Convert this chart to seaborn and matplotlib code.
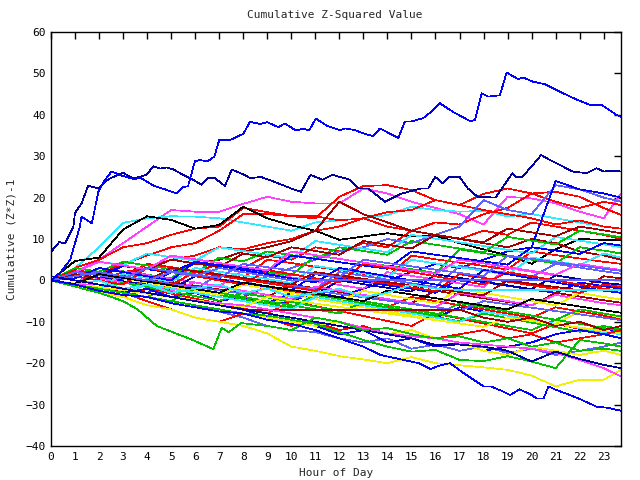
import matplotlib
matplotlib.use("Agg")
import matplotlib.pyplot as plt
import seaborn as sns
import pandas as pd

# ---------------- data ----------------
hours = [0, 1, 2, 3, 4, 5, 6, 7, 8, 9, 10, 11, 12, 13, 14, 15, 16, 17, 18,
         19, 20, 21, 22, 23, 23.72]

# prominent series with their own hour grids
top_blue_h = [0, 0.4, 0.8, 1.2, 1.27, 1.7, 1.9, 1.97, 2.25, 2.52, 3.0, 3.5, 3.7,
              4.26, 4.74, 5.23, 5.5, 5.7, 5.99, 6.2, 6.5, 6.8, 7.0, 7.45, 8.0,
              8.28, 8.7, 9.0, 9.46, 9.73, 10.2, 10.5, 10.74, 11.02, 11.47, 12.02,
              12.23, 12.65, 12.99, 13.4, 13.69, 14.45, 14.73, 15.0, 15.49, 15.77,
              16.18, 16.73, 17.43, 17.64, 17.92, 18.2, 18.68, 18.96, 19.44, 19.65,
              20.06, 20.55, 21.31, 21.87, 22.42, 22.91, 23.53, 23.72]
top_blue_v = [0, 2, 5, 13, 15.4, 13.8, 19.4, 21.4, 24.3, 26.3, 25.2, 24.4, 24.9,
              22.9, 22, 21, 22.6, 22.7, 28.8, 29.1, 28.7, 29.9, 33.9, 33.9, 35.4,
              38.3, 37.8, 38.2, 37, 37.9, 36.2, 36.7, 36.2, 39.1, 37.4, 36.3,
              36.7, 36.3, 35.5, 34.9, 36.7, 34.4, 38.4, 38.4, 39.2, 40.5,
              42.8, 40.7, 38.5, 38.7, 45.2, 44.4, 44.7, 50.2, 48.6, 49,
              48, 47.4, 45.2, 43.7, 42.4, 42.4, 40, 39.5]

navy_h = [0, 0.35, 0.58, 0.93, 1.0, 1.27, 1.55, 1.97, 2.4, 3.0, 3.42, 3.98, 4.26,
          4.53, 4.81, 5.09, 5.5, 5.92, 6.27, 6.54, 6.82, 7.24, 7.52, 8.0, 8.3,
          8.73, 9.3, 10.0, 10.4, 10.8, 11.3, 11.7, 12.2, 12.4, 12.8, 13.2, 13.9,
          14.6, 15.4, 15.7, 15.99, 16.3, 16.58, 17.0, 17.35, 17.75, 18.5, 19.2,
          19.33, 19.6, 20.0, 20.4, 20.75, 21.17, 21.7, 22.3, 22.7, 23.0, 23.4, 23.72]
navy_v = [6.9, 9.3, 8.9, 13, 16.3, 18.6, 22.9, 22.2, 24.5, 26, 24.6, 25.5, 27.6,
          27, 27.3, 26.8, 25.5, 24.3, 23.1, 24.7, 24.7, 22.8, 26.8, 25.6, 24.7,
          25, 23.8, 22.2, 21.4, 25.5, 24.3, 25.5, 24.7, 24.4, 22.2, 22.2, 19,
          21, 22.2, 22.2, 25, 23.4, 25, 25, 22.2, 20.2, 20, 25.9, 25, 25,
          27.5, 30.3, 29.1, 27.9, 26.3, 25.9, 27.1, 26.3, 26.5, 26.3]

bottom_blue_h = [0, 1, 2, 3, 4, 5, 6, 7, 8, 9, 10, 11, 12, 13, 13.7, 14.5, 15.3,
                 15.8, 16.2, 16.6, 17.2, 18.0, 18.3, 18.8, 19.1, 19.5, 20.0, 20.2,
                 20.5, 20.7, 21.0, 21.6, 22.1, 22.7, 23.2, 23.72]
bottom_blue_v = [0, -1, -2.5, -3.5, -4, -5.5, -6.5, -7.5, -8, -9.5, -10.5, -12,
                 -14, -16, -18, -19, -20, -21.4, -20.5, -20, -22.5, -25.6, -25.6,
                 -26.8, -27.7, -26.3, -27.7, -28.5, -28.5, -25.6, -26.4, -27.7,
                 -28.9, -30.5, -30.8, -31.5]

green_dip_h = [0, 1, 2, 3, 3.6, 4.4, 5.9, 6.75, 7.1, 7.4, 7.9, 9, 10, 11, 12, 13,
               14, 15, 16, 17, 18, 19, 20, 21, 22, 23, 23.72]
green_dip_v = [0, -1.5, -3, -5, -7, -11, -14.4, -16.6, -11.5, -12.5, -10.3, -11,
               -12, -9, -10, -12, -11.5, -13, -14, -13.5, -15, -14, -16, -15, -17,
               -16.5, -17]

# series on the hourly grid
magenta_up = [0, 2, 5, 9, 13, 17, 16.6, 16.6, 18.5, 20.2, 19, 18.6, 18.6, 22.2,
              21, 19, 17.5, 16, 13.5, 20.2, 19.8, 18.6, 16.6, 15, 21]
cyan_up = [0, 3, 8, 13.9, 15, 15.5, 15.4, 15, 14, 13, 12, 14, 14.5, 15, 15.8,
           17.8, 17, 16.6, 16.8, 15.5, 16, 15, 14, 13, 12.5]
red_up_a = [0, 2, 1.5, 4, 6, 8, 9, 12, 16, 16, 15.5, 15, 20.2, 22.8, 23, 21.8,
            19.4, 18.2, 17, 16, 15, 13.5, 14.5, 13, 12.5]
red_up_b = [0, 1, 0, 2, 3, 5, 6, 8, 7.5, 9, 10, 12, 13, 15, 16.5, 17, 19.4, 18.2,
            20.9, 22.2, 21, 21.4, 20.2, 17.5, 15.8]
red_up_c = [0, 3, 5, 8, 9, 11, 12.5, 13, 17.5, 16.5, 15.5, 15.5, 14.5, 15, 13,
            12, 11, 10, 12, 11, 14, 13, 12, 11, 10]
red_up_d = [0, -1, -2, -2, -3, -1, 2, 4, 3, 6, 5, 8, 7, 9, 8, 12, 14, 13.5, 16,
            17.5, 21, 19, 17.5, 19, 18.2]
black_up = [0, 4.7, 5.5, 12.3, 15.5, 14.6, 12.5, 13.4, 17.8, 15, 13.3, 12, 9.8,
            10.6, 11.4, 10.6, 10.8, 9, 7.5, 6, 4, 7.5, 10, 9.8, 9.8]
darkred_up = [0, -1, 0, 1, 3, 2, 4, 5, 7, 8, 9.5, 12, 19, 16, 14, 12, 11, 10, 9,
              8, 10, 9, 7, 6, 5]
lightblue_up = [0, 1, 2, 1, 0, 2, 1, 0, -1, 1, 3, 5, 7, 8, 10, 9, 11, 13, 19.4,
                17, 16, 23, 22, 20, 19]
blue_jump = [0, -1, -2, -3, -2, -4, -3, -5, -4, -6, -5, -3, -4, -2, 0, 2, 4, 3,
             5, 7, 8, 24, 22, 21, 20]

red_mid_a = [0, 2.5, 1.5, 0.7, 4, 3.2, 2.3, 1.5, 0.6, 5, 4.2, 3.3, 2.5, 1.6, 0.8,
             6, 5.1, 4.3, 3.5, 2.6, 7, 6.1, 5.3, 4.5, 4]
green_mid_a = [0, -0.8, 3, 2.2, 1.4, 0.5, 4.5, 3.7, 2.8, 2, 1.2, 6, 5.2, 4.3, 3.5,
               2.7, 1.8, 7.5, 6.6, 5.8, 5, 4.1, 8, 7.2, 6.5]
blue_mid_a = [0, 1.5, 0.7, -0.2, -1, 2, 1.2, 0.3, -0.6, -1.5, -2.4, 1.5, 0.6,
              -0.3, -1.2, -2, -3, 0.5, -0.4, -1.3, -2.2, -3, -0.5, -1.4, -2]
magenta_mid_a = [0, -0.9, 3, 2.1, 1.3, 0.4, -0.5, -1.4, 2.5, 1.6, 0.7, -0.2, -1.1,
                 -2, 2, 1.1, 0.2, -0.7, -1.6, 3, 2.1, 1.2, 0.3, -0.6, -1.2]
cyan_mid_a = [0, 2, 4.5, 3.7, 6.5, 5.6, 4.8, 8, 7.1, 6.2, 5.4, 9.5, 8.6, 7.7, 6.8,
              11, 10.1, 9.2, 8.3, 7.4, 6.5, 10.5, 9.6, 8.7, 8]
darkred_mid_a = [0, -0.9, -1.8, -2.7, 0.5, -0.4, -1.3, -2.2, -3.1, -4, -1, -1.9,
                 -2.8, -3.7, -4.6, -5.5, -2.5, -3.4, -4.3, -5.2, -6.1, -3, -3.9,
                 -4.8, -5.4]
lightblue_mid_a = [0, -0.9, 1.5, 0.6, -0.3, -1.2, -2.1, 1.5, 0.6, -0.3, -1.2, -2.1,
                   2, 1.1, 0.2, -0.7, -1.6, 3.5, 2.6, 1.7, 0.8, 4, 3.1, 2.2, 1.6]
yellow_mid_a = [0, -1, -2, -3, -1, -2, -3, -4, -5, -6, -3.5, -4.5, -5.5, -6.5,
                -7.5, -8.5, -9.5, -6.5, -7.5, -8.5, -9.5, -10.5, -7.5, -8.5, -9]
navy_mid_a = [0, 1.5, 0.6, -0.3, -1.2, -2.1, 1, 0.1, -0.8, -1.7, -2.6, -3.5, 0,
              -0.9, -1.8, -2.7, 1.5, 0.6, -0.3, -1.2, -2.1, 1.2, 0.3, -0.6, -1]
red_mid_b = [0, -1, -2, 1, 0, -1, -2, -3, -4, -1.5, -2.5, -3.5, -4.5, -5.5, -6.5,
             -4, -5, -6, -7, -8, -9, -6.5, -7.5, -8.5, -9.5]
green_mid_b = [0, 3, 2.1, 4.5, 3.6, 2.7, 1.8, 5.5, 4.6, 7, 6.1, 5.2, 8, 7.1, 6.2,
               9.5, 8.6, 7.7, 6.8, 10.5, 9.6, 8.7, 12, 11.1, 10.4]
blue_mid_b = [0, -1, -2, 0.5, -0.5, -1.5, -2.5, -3.5, -4.5, -5.5, -3, -4, -5, -6,
              -7, -8, -9, -6.5, -7.5, -8.5, -9.5, -10.5, -11.5, -12.5, -12]
magenta_mid_b = [0, 1.5, 0.5, -0.5, -1.5, -2.5, -0.5, -1.5, -2.5, -3.5, -4.5, -1.5,
                 -2.5, -3.5, -4.5, -5.5, -6.5, -3, -4, -5, -6, -3.5, -4.5, -5.5, -6]
cyan_mid_b = [0, -0.9, -1.8, 1.5, 0.6, -0.3, 3, 2.1, 1.2, 0.3, -0.6, 3.5, 2.6,
              1.7, 0.8, 5, 4.1, 3.2, 2.3, 1.4, 5.5, 4.6, 3.7, 6.5, 5.5]
red_mid_c = [0, -1, -2.5, -4, -2, -3.2, -4.4, -5.6, -6.8, -8, -5, -6.2, -7.4,
             -8.6, -9.8, -11, -8, -9.2, -10.4, -11.6, -12.8, -10.5, -11.7, -12.9, -14]
green_mid_c = [0, -1, -2, -3, -4, -1.5, -2.5, -3.5, -4.5, -5.5, -6.5, -3.5, -4.5,
               -5.5, -6.5, -7.5, -8.5, -5.5, -6.5, -7.5, -8.5, -9.5, -7, -8, -8.7]
darkred_mid_b = [0, 1.5, 0.6, 3.5, 2.6, 5, 4.1, 3.2, 6.5, 5.6, 8, 7.1, 6.2, 9.5,
                 8.6, 7.7, 11, 10.1, 9.2, 12.5, 11.6, 10.7, 13, 12.1, 11.4]
lightblue_mid_b = [0, -0.8, -1.6, -2.4, 0, -0.8, -1.6, -2.4, -3.2, -4, -4.8, -2.5,
                   -3.3, -4.1, -4.9, -5.7, -6.5, -7.3, -5, -5.8, -6.6, -7.4, -8.2,
                   -9, -9.6]
yellow_mid_b = [0, -1, 1.5, 0.5, -0.5, -1.5, -2.5, -3.5, -1, -2, -3, -4, -5, -2.5,
                -3.5, -4.5, -5.5, -2, -3, -4, -5, -6, -3, -4, -4.6]
blue_mid_c = [0, 2, 1.2, 3.5, 2.7, 1.9, 4.5, 3.7, 2.9, 2.1, 6, 5.2, 4.4, 3.6, 2.8,
              7, 6.2, 5.4, 4.6, 3.8, 8, 7.2, 6.4, 9, 8.4]
red_mid_d = [0, 2.5, 1.6, 0.7, -0.2, -1.1, 2, 1.1, 0.2, -0.7, -1.6, -2.5, 1, 0.1,
             -0.8, -1.7, -2.6, 1.5, 0.6, -0.3, -1.2, -2.1, -3, -1, -1.6]
green_mid_d = [0, -1.1, -2.2, -0.5, -1.6, -2.7, -3.8, -4.9, -3, -4.1, -5.2, -6.3,
               -7.4, -5.5, -6.6, -7.7, -8.8, -9.9, -8, -9.1, -10.2, -11.3, -12.4,
               -11, -11.8]
red_mid_e = [0, 1, 0, -1, 3, 2, 1, 0, -1, 2.5, 1.5, 0.5, -0.5, 4, 3, 2, 1, 0, -1,
             2, 1, 0, -1, -2, -2.5]
green_mid_e = [0, -1, -2, -3, -4, -5, -2, -3, -4, -5, -6, -7, -8, -5, -6, -7, -8,
               -9, -10, -11, -12, -9.5, -10.5, -11.5, -12.2]
blue_mid_d = [0, 0.5, 3, 2, 1, 0, 4.5, 3.5, 2.5, 1.5, 0.5, -0.5, 3, 2, 1, 0, -1,
              -2, 2.5, 1.5, 0.5, -0.5, -1.5, -2.5, -3]
magenta_mid_c = [0, 2, 4.5, 3.6, 2.7, 6, 5.1, 4.2, 3.3, 2.4, 7, 6.1, 5.2, 4.3,
                 3.4, 2.5, 1.6, 5, 4.1, 3.2, 2.3, 1.4, 4, 3.1, 2.5]
cyan_mid_c = [0, -1, -2, -3, -1, -2, -3, -4, -5, -6, -7, -4, -5, -6, -7, -8, -9,
              -10, -7.5, -8.5, -9.5, -10.5, -11.5, -12.5, -13]
darkred_mid_c = [0, -0.8, 1.5, 0.7, -0.1, 3, 2.2, 1.4, 0.6, -0.2, -1, 2, 1.2, 0.4,
                 -0.4, -1.2, -2, -2.8, -3.6, 0, -0.8, -1.6, -2.4, 1, 0.5]
yellow_mid_c = [0, -0.8, -1.6, -2.4, -3.2, -4, -4.8, -5.6, -6.4, -4, -4.8, -5.6,
                -6.4, -7.2, -8, -8.8, -9.6, -10.4, -11.2, -9, -9.8, -10.6, -11.4,
                -12.2, -12.8]
lightblue_mid_c = [0, 2, 1.2, 0.4, 3, 2.2, 1.4, 0.6, 4, 3.2, 2.4, 1.6, 0.8, 5,
                   4.2, 3.4, 2.6, 1.8, 1, 6, 5.2, 4.4, 3.6, 2.8, 2.3]
black_mid = [0, -0.9, 1.5, 0.6, -0.3, -1.2, -2.1, -3, -0.5, -1.4, -2.3, -3.2,
             -4.1, -5, -2.5, -3.4, -4.3, -5.2, -6.1, -7, -4.5, -5.4, -6.3, -7.2,
             -7.8]
cyan_flat = [0, -1, 0, -2, -1, -3, -2, -1, -3, -2, -4, -3, -2, -4, -3, -1, -2,
             -2.3, -2.3, -2.3, -2.3, -2.3, -2.3, -2.3, -2.3]
lightblue_flat = [0, 1, 2, 1, 0, 2, 1, 3, 2, 1, 0, 0.1, 0.1, 0.1, 0.1, 0.1, 0.1,
                  0.1, 0.1, 0.1, 0.1, 0.1, 0.1, 0.1, 0.1]
darkred_flat = [0, -1, -2, -3, -2, -4, -5, -6, -7.1, -7.1, -7.1, -7.1, -7.1,
                -7.1, -7.1, -7.1, -7.1, -7.1, -9, -10, -9, -11, -10, -12, -11]

lightblue_low = [0, -1, -2, -3, -4, -5, -6, -7.5, -9, -11, -12, -12.5, -14, -15,
                 -14, -16.5, -15.5, -17, -16, -17.5, -16.5, -18, -17, -16, -15]
red_low = [0, -1, -2, -3, -5, -7, -9, -10, -8, -9, -11, -10, -12, -11, -13, -12,
           -14, -13, -12, -14, -13, -15, -14, -13, -12]
blue_low = [0, -1, -2, -3, -2, -4, -5, -6, -7, -9, -10, -11, -13, -12, -15, -14,
            -16, -15, -17, -16, -15, -13, -12, -13, -14]
yellow_low_a = [0, -1, -2, -3, -4, -5, -6, -7, -8, -9, -10, -11, -10, -12, -13,
                -12, -14, -15, -17, -18, -16, -17, -18, -17, -18]
yellow_low_b = [0, -1, -3, -4, -6, -7, -9, -10, -11, -12.8, -16, -17, -18.3,
                -19.1, -20, -18.5, -20, -20.5, -21, -21.6, -23, -25.6, -24, -24,
                -21.6]
green_low = [0, -1, -2, -3, -4, -5, -6, -7, -8, -8.5, -9.5, -10.5, -12.5, -14.4,
             -16, -17.2, -16.8, -19.2, -19.5, -18.3, -19.6, -21.2, -14.4, -15.2, -16]
magenta_low = [0, -1, -1, -2, -3, -4, -5, -5.5, -6, -7, -8, -9, -10, -11.5,
               -12.8, -13.5, -14, -15, -15.5, -16, -16.5, -17.5, -19.2, -21.2,
               -23.2]
navy_low = [1, 0, -1, -2, -3, -4, -5, -6, -7, -8, -9, -10, -11, -12, -13, -14,
            -15.6, -15.5, -16, -17, -19.6, -17.2, -19, -20.4, -21.2]

RED, GREEN, BLUE, MAGENTA = "#ff0000", "#00c000", "#0000ff", "#ff40ff"
CYAN, DARKRED, LIGHTBLUE = "#30e8ff", "#a00000", "#6060ff"
YELLOW, NAVY, BLACK = "#f0f000", "#0000a0", "#000000"

hourly_series = [
    ("magenta_up", magenta_up, MAGENTA), ("cyan_up", cyan_up, CYAN),
    ("red_up_a", red_up_a, RED), ("red_up_b", red_up_b, RED),
    ("red_up_c", red_up_c, RED), ("red_up_d", red_up_d, RED),
    ("black_up", black_up, BLACK), ("darkred_up", darkred_up, DARKRED),
    ("lightblue_up", lightblue_up, LIGHTBLUE), ("blue_jump", blue_jump, BLUE),
    ("red_mid_a", red_mid_a, RED), ("green_mid_a", green_mid_a, GREEN),
    ("blue_mid_a", blue_mid_a, BLUE), ("magenta_mid_a", magenta_mid_a, MAGENTA),
    ("cyan_mid_a", cyan_mid_a, CYAN), ("darkred_mid_a", darkred_mid_a, DARKRED),
    ("lightblue_mid_a", lightblue_mid_a, LIGHTBLUE), ("yellow_mid_a", yellow_mid_a, YELLOW),
    ("navy_mid_a", navy_mid_a, NAVY), ("red_mid_b", red_mid_b, RED),
    ("green_mid_b", green_mid_b, GREEN), ("blue_mid_b", blue_mid_b, BLUE),
    ("magenta_mid_b", magenta_mid_b, MAGENTA), ("cyan_mid_b", cyan_mid_b, CYAN),
    ("red_mid_c", red_mid_c, RED), ("green_mid_c", green_mid_c, GREEN),
    ("darkred_mid_b", darkred_mid_b, DARKRED), ("lightblue_mid_b", lightblue_mid_b, LIGHTBLUE),
    ("yellow_mid_b", yellow_mid_b, YELLOW), ("blue_mid_c", blue_mid_c, BLUE),
    ("red_mid_d", red_mid_d, RED), ("green_mid_d", green_mid_d, GREEN),
    ("red_mid_e", red_mid_e, RED), ("green_mid_e", green_mid_e, GREEN),
    ("blue_mid_d", blue_mid_d, BLUE), ("magenta_mid_c", magenta_mid_c, MAGENTA),
    ("cyan_mid_c", cyan_mid_c, CYAN), ("darkred_mid_c", darkred_mid_c, DARKRED),
    ("yellow_mid_c", yellow_mid_c, YELLOW), ("lightblue_mid_c", lightblue_mid_c, LIGHTBLUE),
    ("black_mid", black_mid, BLACK),
    ("cyan_flat", cyan_flat, CYAN), ("lightblue_flat", lightblue_flat, LIGHTBLUE),
    ("darkred_flat", darkred_flat, DARKRED), ("lightblue_low", lightblue_low, LIGHTBLUE),
    ("red_low", red_low, RED), ("blue_low", blue_low, BLUE),
    ("yellow_low_a", yellow_low_a, YELLOW), ("yellow_low_b", yellow_low_b, YELLOW),
    ("green_low", green_low, GREEN), ("magenta_low", magenta_low, MAGENTA),
    ("navy_low", navy_low, NAVY),
]
own_grid_series = [
    ("green_dip", green_dip_h, green_dip_v, GREEN),
    ("bottom_blue", bottom_blue_h, bottom_blue_v, BLUE),
    ("navy", navy_h, navy_v, NAVY),
    ("top_blue", top_blue_h, top_blue_v, BLUE),
]

# ---------------- build long table ----------------
rows = []
palette = {}
for name, vals, col in hourly_series:
    for h, v in zip(hours, vals):
        rows.append((name, h, v))
    palette[name] = col
for name, hs, vs, col in own_grid_series:
    for h, v in zip(hs, vs):
        rows.append((name, h, v))
    palette[name] = col
df = pd.DataFrame(rows, columns=["series", "hour", "value"])

# ---------------- plot ----------------
sns.set_style("white")
plt.rcParams["font.family"] = ["DejaVu Sans Mono", "DejaVu Sans"]

fig = plt.figure(figsize=(6.4, 4.8), dpi=100)
ax = fig.add_axes([51 / 640, 1 - 446 / 480, 570 / 640, 414 / 480])

sns.lineplot(data=df, x="hour", y="value", hue="series", palette=palette,
             hue_order=list(palette.keys()), estimator=None, sort=False,
             legend=False, linewidth=0.5, antialiased=False, ax=ax)

ax.set_xlim(0, 23.72)
ax.set_ylim(-40, 60)
ax.set_xticks(list(range(24)))
ax.set_yticks(list(range(-40, 61, 10)))
ax.tick_params(direction="in", length=5, width=1, top=True, right=True,
               labelsize=8, colors="black", pad=4)
for sp in ax.spines.values():
    sp.set_color("black")
    sp.set_linewidth(1)
ax.set_xlabel("Hour of Day", fontsize=8, labelpad=5)
ax.set_ylabel("Cumulative (Z*Z)-1", fontsize=8, labelpad=6)
fig.text(335 / 640, 1 - 15 / 480, "Cumulative Z-Squared Value", ha="center",
         va="center", fontsize=8)

fig.savefig("out.png", dpi=100)
